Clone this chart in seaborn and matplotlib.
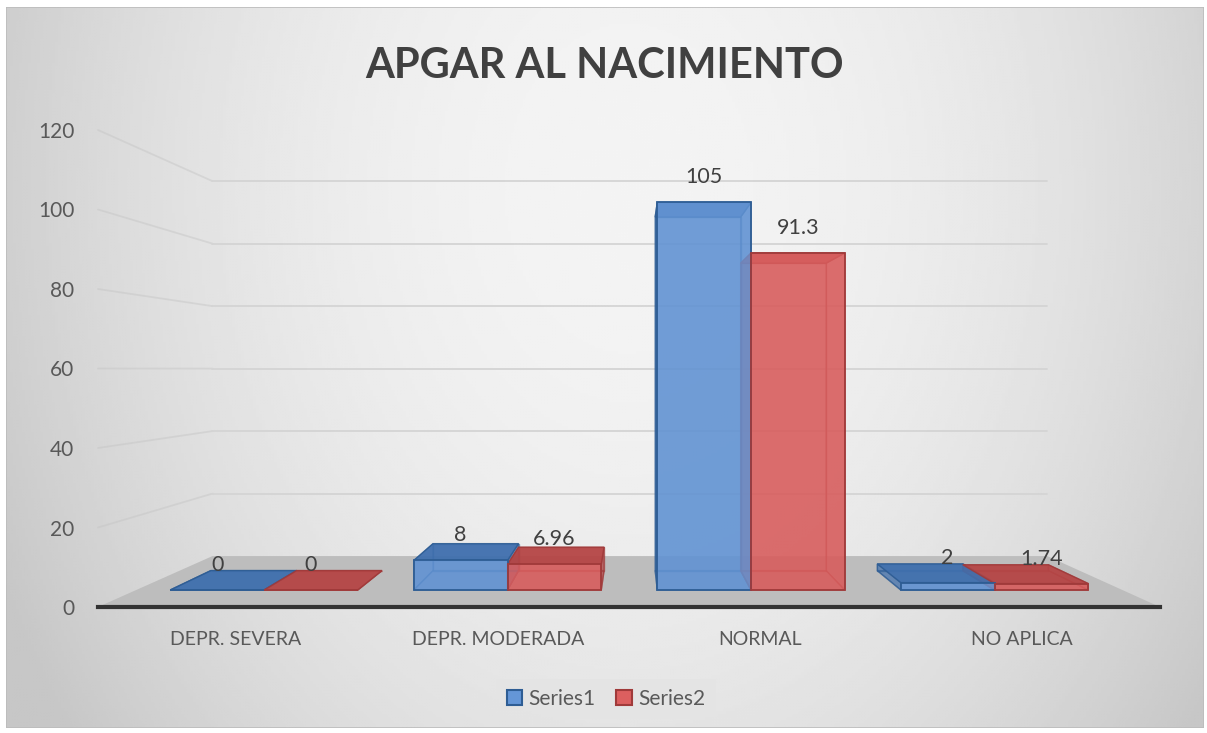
import numpy as np
import pandas as pd
import matplotlib
matplotlib.use("Agg")
import matplotlib.pyplot as plt
from matplotlib.patches import Polygon, Patch, Rectangle
import seaborn as sns

# Data
categories = ["DEPR. SEVERA", "DEPR. MODERADA", "NORMAL", "NO APLICA"]
series1 = [0, 8, 105, 2]
series2 = [0, 6.96, 91.3, 1.74]
labels1 = ["0", "8", "105", "2"]
labels2 = ["0", "6.96", "91.3", "1.74"]
series_names = ["Series1", "Series2"]
y_ticks = [0, 20, 40, 60, 80, 100, 120]

df = pd.DataFrame({
    "categoria": categories * 2,
    "valor": series1 + series2,
    "serie": [series_names[0]] * len(categories) + [series_names[1]] * len(categories),
})

sns.set_theme(style="white")
plt.rcParams["font.family"] = ["Lato", "DejaVu Sans"]

W, H = 1207, 733
fig = plt.figure(figsize=(W / 100, H / 100), dpi=100)
fig.patch.set_facecolor("white")

# background gradient (excel style)
ax_bg = fig.add_axes([6 / W, 5 / H, 1198 / W, 721 / H])
gx, gy = np.meshgrid(np.linspace(0, 1, 400), np.linspace(0, 1, 240))
d = np.sqrt(((gx - 0.52) / 0.5) ** 2 + ((gy - 0.25) / 1.1) ** 2)
grad = np.clip(0.955 - 0.13 * d ** 2, 0.78, 1)
ax_bg.imshow(grad, cmap="gray", vmin=0, vmax=1, aspect="auto", extent=[0, 1, 1, 0])
ax_bg.set_axis_off()
ax_bg.add_patch(Rectangle((0, 0), 1, 1, transform=ax_bg.transAxes, fill=False,
                          edgecolor="#bcbcbc", lw=1.2))

# main axes = front plane of the 3d box
ax = fig.add_axes([98 / W, 126 / H, 1062 / W, 477 / H])
ax.set_facecolor("none")
blue, red = "#6496d7", "#dc5f5f"
blue_dark, red_dark = "#3f6fae", "#b54545"
blue_edge, red_edge = "#2e5d94", "#a03a3a"
sns.barplot(data=df, x="categoria", y="valor", hue="serie", palette=[blue, red],
            width=0.77, saturation=1, legend=False, ax=ax)
ax.set_xlim(-0.525, 3.525)
ax.set_ylim(0, 120)
ax.set_yticks(y_ticks)
ax.set_xlabel("")
ax.set_ylabel("")
ax.grid(False)
for s in ["top", "right", "left"]:
    ax.spines[s].set_visible(False)
ax.spines["bottom"].set_color("#333333")
ax.spines["bottom"].set_linewidth(3)
ax.spines["bottom"].set_zorder(6)
ax.tick_params(axis="y", length=0, pad=17, labelsize=15, labelcolor="#595959")
ax.tick_params(axis="x", length=0, pad=17, labelsize=14, labelcolor="#595959")

# perspective: scale toward a vanishing point
inv = ax.transData.inverted()
V = inv.transform((633, H - 369))
k_front, k_back, k_wall = 0.9286, 0.847, 0.786


def proj(x, y, k):
    return (V[0] + k * (x - V[0]), V[1] + k * (y - V[1]))


x0, x1 = ax.get_xlim()
# floor
floor = [proj(x0, 0, 1), proj(x1, 0, 1), proj(x1, 0, k_wall), proj(x0, 0, k_wall)]
ax.add_patch(Polygon(floor, closed=True, facecolor="#bdbdbd", edgecolor="none", zorder=1,
                     clip_on=False))
# wall gridlines
for v in y_ticks[1:]:
    a, b, c = proj(x0, v, 1), proj(x0, v, k_wall), proj(x1, v, k_wall)
    ax.plot([a[0], b[0]], [a[1], b[1]], color="#c4c4c4", alpha=0.45, lw=1.3, zorder=0.5,
            clip_on=False)
    ax.plot([b[0], c[0]], [b[1], c[1]], color="#d4d4d4", lw=1.3, zorder=0.5, clip_on=False)

# 3d boxes from the seaborn bars
value_labels = [labels1, labels2]
edges = [blue_edge, red_edge]
fills = [blue, red]
darks = [blue_dark, red_dark]
for cont, labs, ec, fc, dc in zip(ax.containers, value_labels, edges, fills, darks):
    for bar, lab in zip(cont, labs):
        bx, bw, bh = bar.get_x(), bar.get_width(), bar.get_height()
        bar.set_visible(False)
        pts = [(bx, 0), (bx + bw, 0), (bx + bw, bh), (bx, bh)]
        F = [proj(px, py, k_front) for px, py in pts]
        B = [proj(px, py, k_back) for px, py in pts]
        faces = [B, [F[0], F[1], B[1], B[0]], [F[0], F[3], B[3], B[0]],
                 [F[1], F[2], B[2], B[1]]]
        for face in faces:
            ax.add_patch(Polygon(face, closed=True, facecolor=dc, alpha=0.45, edgecolor="none",
                                 zorder=2, clip_on=False))
            ax.add_patch(Polygon(face, closed=True, fill=False, edgecolor=ec, alpha=0.6, lw=1,
                                 zorder=2.1, clip_on=False))
        top = [F[3], F[2], B[2], B[3]]
        ax.add_patch(Polygon(top, closed=True, facecolor=dc, alpha=0.9, edgecolor=ec, lw=1,
                             zorder=2.2, clip_on=False))
        ax.add_patch(Polygon(F, closed=True, facecolor=fc, alpha=0.8, edgecolor="none",
                             zorder=3, clip_on=False))
        ax.add_patch(Polygon(F, closed=True, fill=False, edgecolor=ec, lw=1.3,
                             zorder=3.1, clip_on=False))
        tx, ty = proj(bx + bw / 2, bh, k_front)
        ax.annotate(lab, (tx, ty), xytext=(0, 18), textcoords="offset points",
                    ha="center", va="center", fontsize=15.5, color="#404040", zorder=5,
                    annotation_clip=False)

fig.text(605 / W, 1 - 78 / H, "APGAR AL NACIMIENTO", ha="center", va="baseline",
         fontsize=30, fontweight="bold", color="#404040")

handles = [Patch(facecolor=blue, edgecolor=blue_edge, lw=1.5, label=series_names[0]),
           Patch(facecolor=red, edgecolor=red_edge, lw=1.5, label=series_names[1])]
leg = fig.legend(handles=handles, loc="center", bbox_to_anchor=(606 / W, 1 - 699 / H), ncol=2,
                 frameon=True, fontsize=15, handlelength=0.75, handleheight=0.75,
                 handletextpad=0.3, columnspacing=1.0, borderpad=0.5, fancybox=False)
leg.get_frame().set_facecolor("#e4e4e4")
leg.get_frame().set_edgecolor("none")
for t in leg.get_texts():
    t.set_color("#595959")

fig.savefig("out.png", dpi=100)
